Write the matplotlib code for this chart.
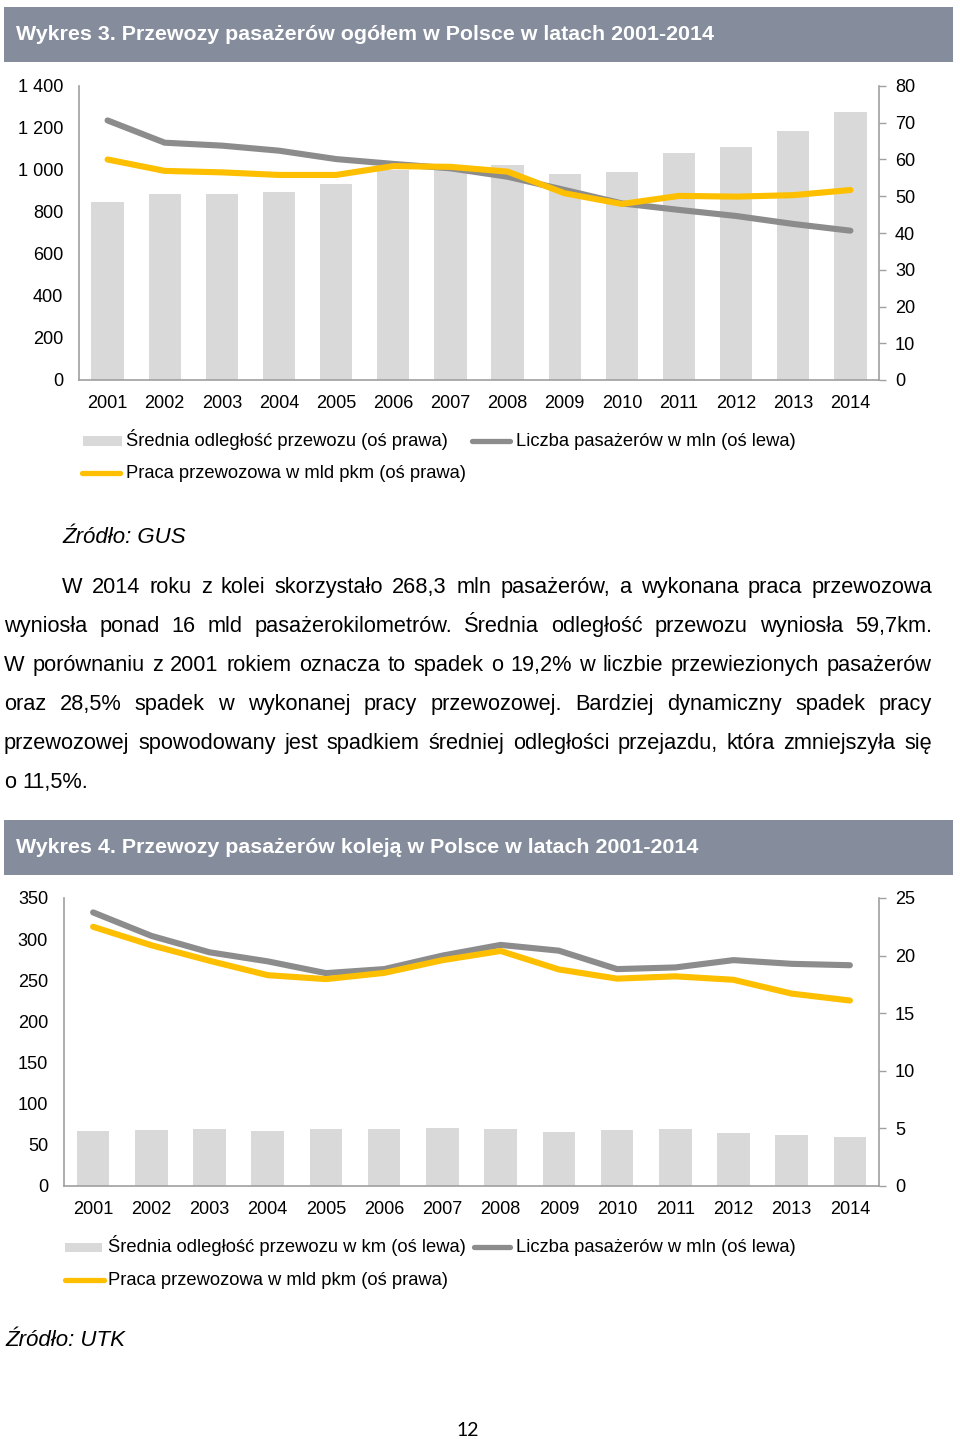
import matplotlib.pyplot as plt
from matplotlib.lines import Line2D
from matplotlib.patches import Rectangle
from matplotlib.ticker import FuncFormatter, MultipleLocator
import numpy as np

plt.rcParams["font.family"] = ["Liberation Sans", "DejaVu Sans"]

W, H = 960, 1439

years = [str(y) for y in range(2001, 2015)]

# Wykres 3 - przewozy ogółem (GUS)
total_distance_km = [48.5, 50.5, 50.6, 51.2, 53.3, 57.1, 57.2, 58.6, 56.0, 56.6, 61.9, 63.5, 67.8, 72.8]
total_passengers_mln = [1236, 1130, 1116, 1092, 1052, 1029, 1008, 968, 905, 841, 810, 781, 743, 711]
total_work_bn_pkm = [60.0, 56.9, 56.5, 55.8, 55.8, 58.2, 58.0, 56.7, 50.8, 47.9, 50.1, 49.9, 50.3, 51.7]

# Wykres 4 - przewozy koleją (UTK)
rail_distance_km = [67.3, 68.1, 69.0, 67.3, 69.3, 69.7, 70.2, 69.0, 65.7, 68.1, 69.0, 64.9, 62.0, 59.7]
rail_passengers_mln = [332.5, 304, 284, 273, 258.7, 263.6, 280, 293, 286, 263.6, 265.6, 274.5, 270, 268.3]
rail_work_bn_pkm = [22.5, 20.9, 19.55, 18.3, 17.96, 18.5, 19.6, 20.4, 18.8, 18.0, 18.2, 17.9, 16.7, 16.1]

paragraph = [
    "W 2014 roku z kolei skorzystało 268,3 mln pasażerów, a wykonana praca przewozowa",
    "wyniosła ponad 16 mld pasażerokilometrów. Średnia odległość przewozu wyniosła 59,7km.",
    "W porównaniu z 2001 rokiem oznacza to spadek o 19,2% w liczbie przewiezionych pasażerów",
    "oraz 28,5% spadek w wykonanej pracy przewozowej. Bardziej dynamiczny spadek pracy",
    "przewozowej spowodowany jest spadkiem średniej odległości przejazdu, która zmniejszyła się",
    "o 11,5%.",
]

HEADER = "#858d9d"
BAR = "#d9d9d9"
GREY = "#8c8c8c"
YELLOW = "#fdbf00"
SPINE = "#a0a0a0"
FS = 13.1        # osie
LFS = 13.2       # legenda
PFS = 15.7       # akapit


def fx(x):
    return x / W


def fy(y):
    return 1 - y / H


def box(x0, y0, x1, y1):
    return [fx(x0), fy(y1), (x1 - x0) / W, (y1 - y0) / H]


fig = plt.figure(figsize=(W / 100, H / 100), dpi=100)


def txt(x, y, s, fs, **kw):
    # y = środek wiersza w pikselach; linia bazowa nieco niżej
    return fig.text(fx(x), fy(y + 0.36 * fs), s, fontsize=fs, va="baseline", **kw)


def header(y0, y1, text):
    fig.add_artist(Rectangle((fx(4), fy(y1)), (953 - 4) / W, (y1 - y0) / H,
                             transform=fig.transFigure, color=HEADER, lw=0))
    txt(16, (y0 + y1) / 2, text, 15.4, color="white", fontweight="bold")


def base_style(ax):
    for s in ax.spines.values():
        s.set_visible(False)
    ax.tick_params(axis="both", length=0, labelsize=FS, colors="black")


def right_axis(ax, top, step):
    base_style(ax)
    ax.spines["right"].set_visible(True)
    ax.spines["right"].set_color(SPINE)
    ax.spines["right"].set_linewidth(1.2)
    ax.set_ylim(0, top)
    ax.yaxis.set_major_locator(MultipleLocator(step))
    ax.tick_params(axis="y", length=5, width=1, color=SPINE, pad=6.5,
                   labelcolor="black", labelsize=FS)


def left_axis(ax, top, step, fmt=None):
    base_style(ax)
    for side in ("left", "bottom"):
        ax.spines[side].set_visible(True)
        ax.spines[side].set_color(SPINE)
        ax.spines[side].set_linewidth(1.2)
    ax.set_ylim(0, top)
    ax.yaxis.set_major_locator(MultipleLocator(step))
    if fmt is not None:
        ax.yaxis.set_major_formatter(fmt)
    ax.tick_params(axis="y", pad=11.5)
    ax.tick_params(axis="x", pad=10.5)
    ax.set_xlim(-0.5, len(years) - 0.5)
    ax.set_xticks(np.arange(len(years)))
    ax.set_xticklabels(years)


line_kw = dict(lw=4.4, solid_capstyle="round", solid_joinstyle="round")
x = np.arange(len(years))

# ---------- Wykres 3 ----------
header(7, 62, "Wykres 3. Przewozy pasażerów ogółem w Polsce w latach 2001-2014")

ax1 = fig.add_axes(box(79, 86, 879, 380))
ax1b = ax1.twinx()
ax1y = ax1.twinx()

thousands = FuncFormatter(lambda v, p: f"{int(v):,}".replace(",", " "))
left_axis(ax1, 1400, 200, thousands)
right_axis(ax1b, 80, 10)
ax1y.set_ylim(0, 80)
ax1y.axis("off")

ax1b.bar(x, total_distance_km, width=0.565, color=BAR, lw=0)
ax1.plot(x, total_passengers_mln, color=GREY, **line_kw)
ax1y.plot(x, total_work_bn_pkm, color=YELLOW, **line_kw)

ax1b.set_zorder(1)
ax1.set_zorder(2)
ax1y.set_zorder(3)
ax1.patch.set_visible(False)

# legenda 1
fig.add_artist(Rectangle((fx(83), fy(446)), 39 / W, 10 / H, transform=fig.transFigure,
                         color=BAR, lw=0))
txt(126, 441, "Średnia odległość przewozu (oś prawa)", LFS)
fig.add_artist(Line2D([fx(472), fx(510)], [fy(441)] * 2, color=GREY, lw=3.8,
                      solid_capstyle="round"))
txt(516, 441, "Liczba pasażerów w mln (oś lewa)", LFS)
fig.add_artist(Line2D([fx(82), fx(120)], [fy(473)] * 2, color=YELLOW, lw=3.8,
                      solid_capstyle="round"))
txt(126, 473, "Praca przewozowa w mld pkm (oś prawa)", LFS)

txt(62, 537, "Źródło: GUS", 16, style="italic")

# ---------- tekst (wyjustowany) ----------
renderer = fig.canvas.get_renderer()
para_y = [587, 626, 665, 704, 743, 782]
para_x0 = [62, 4, 4, 4, 4, 4]
para_x1 = 932
for i, line in enumerate(paragraph):
    words = line.split()
    texts = [txt(0, para_y[i], w, PFS) for w in words]
    widths = [t.get_window_extent(renderer).width for t in texts]
    if i == len(paragraph) - 1:
        gap = 6.0
    else:
        gap = (para_x1 - para_x0[i] - sum(widths)) / (len(words) - 1)
    pos = para_x0[i]
    for t, wd in zip(texts, widths):
        t.set_x(fx(pos))
        pos += wd + gap

# ---------- Wykres 4 ----------
header(820, 875, "Wykres 4. Przewozy pasażerów koleją w Polsce w latach 2001-2014")

ax2 = fig.add_axes(box(64, 898, 879, 1186))
ax2r = ax2.twinx()
left_axis(ax2, 350, 50)
right_axis(ax2r, 25, 5)

ax2.bar(x, rail_distance_km, width=0.56, color=BAR, lw=0, zorder=1)
ax2.plot(x, rail_passengers_mln, color=GREY, zorder=2, **line_kw)
ax2r.plot(x, rail_work_bn_pkm, color=YELLOW, **line_kw)

# legenda 2
fig.add_artist(Rectangle((fx(65), fy(1251.5)), 37 / W, 9 / H, transform=fig.transFigure,
                         color=BAR, lw=0))
txt(108, 1247, "Średnia odległość przewozu w km (oś lewa)", LFS)
fig.add_artist(Line2D([fx(474), fx(510)], [fy(1247)] * 2, color=GREY, lw=3.8,
                      solid_capstyle="round"))
txt(516, 1247, "Liczba pasażerów w mln (oś lewa)", LFS)
fig.add_artist(Line2D([fx(65), fx(104)], [fy(1280)] * 2, color=YELLOW, lw=3.8,
                      solid_capstyle="round"))
txt(108, 1280, "Praca przewozowa w mld pkm (oś prawa)", LFS)

txt(5, 1340, "Źródło: UTK", 16, style="italic")

fig.text(fx(468), fy(1430), "12", fontsize=14, family=["Lato", "DejaVu Sans"],
         ha="center", va="center")

fig.savefig("out.png", dpi=100, facecolor="white")
